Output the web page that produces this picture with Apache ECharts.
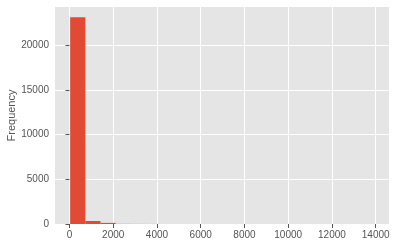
<!DOCTYPE html>
<html>
<head>
<meta charset="utf-8">
<script src="https://cdn.jsdelivr.net/npm/echarts@6/dist/echarts.min.js"></script>
<style>
  html, body { margin: 0; padding: 0; background: #ffffff; }
  #chart { width: 396px; height: 246px; }
</style>
</head>
<body>
<div id="chart"></div>
<script>
// Histogram bin edges (20 bins) and counts
const binEdges = [31, 725, 1419, 2114, 2808, 3502, 4196, 4890, 5585, 6279, 6973,
                  7667, 8361, 9056, 9750, 10444, 11138, 11832, 12527, 13221, 13915];
const counts = [23150, 335, 125, 15, 8, 5, 3, 2, 2, 1,
                1, 1, 1, 0, 0, 1, 0, 0, 0, 1];
const xTicks = [0, 2000, 4000, 6000, 8000, 10000, 12000, 14000];
const yTicks = [0, 5000, 10000, 15000, 20000];
const yLabel = 'Frequency';

const bars = counts.map((c, i) => [binEdges[i], binEdges[i + 1], c]);

const tickFont = {
  color: '#555555',
  fontFamily: '"Liberation Sans Narrow", "Liberation Sans", Arial, sans-serif',
  fontSize: 10,
  formatter: function (v) { return String(v); }
};

const chart = echarts.init(document.getElementById('chart'), null, { renderer: 'canvas' });
chart.setOption({
  animation: false,
  backgroundColor: '#ffffff',
  grid: {
    left: 55, right: 7, top: 7, bottom: 22,
    containLabel: false,
    outerBoundsMode: 'none',
    show: true, backgroundColor: '#E5E5E5', borderWidth: 0
  },
  xAxis: {
    type: 'value',
    min: -663,
    max: 14609,
    axisLine: { show: false },
    axisTick: {
      show: true, length: 4, inside: false,
      customValues: xTicks,
      lineStyle: { color: '#555555', width: 1 }
    },
    axisLabel: Object.assign({ customValues: xTicks, margin: 6 }, tickFont),
    splitLine: { show: true, lineStyle: { color: '#ffffff', width: 1 } }
  },
  yAxis: {
    type: 'value',
    min: 0,
    max: 24300,
    name: yLabel,
    nameLocation: 'middle',
    nameGap: 38,
    nameMoveOverlap: false,
    nameTextStyle: {
      color: '#555555',
      fontFamily: '"Liberation Sans", Arial, sans-serif',
      fontSize: 11
    },
    axisLine: { show: false },
    axisTick: {
      show: true, length: 4, inside: false,
      customValues: yTicks,
      lineStyle: { color: '#555555', width: 1 }
    },
    axisLabel: Object.assign({ customValues: yTicks, margin: 6 }, tickFont),
    splitLine: { show: true, lineStyle: { color: '#ffffff', width: 1 } }
  },
  series: [{
    type: 'custom',
    data: bars,
    encode: { x: [0, 1], y: 2 },
    renderItem: function (params, api) {
      const p0 = api.coord([api.value(0), api.value(2)]);
      const p1 = api.coord([api.value(1), 0]);
      return {
        type: 'rect',
        shape: { x: p0[0], y: p0[1], width: p1[0] - p0[0], height: p1[1] - p0[1] },
        style: { fill: '#E24A33' }
      };
    }
  }]
});
</script>
</body>
</html>
